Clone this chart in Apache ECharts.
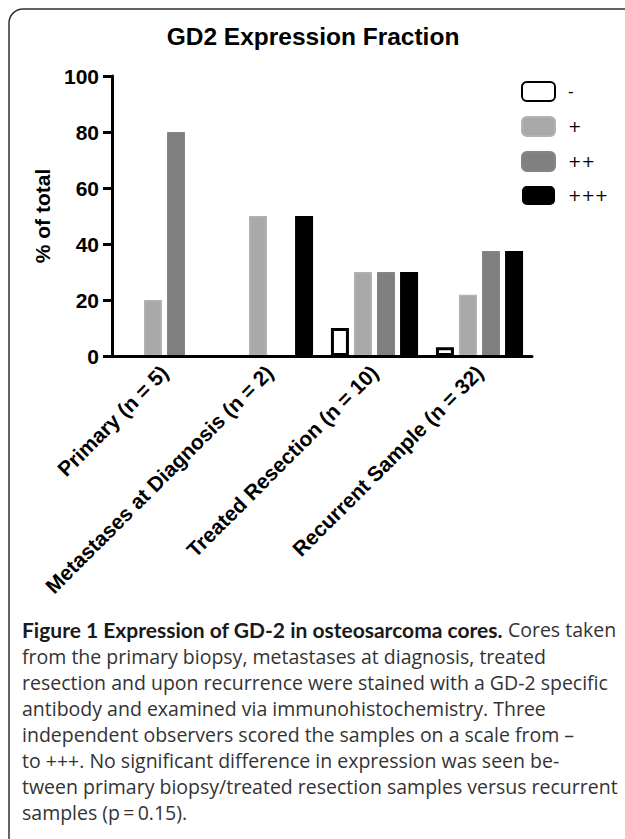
<!DOCTYPE html>
<html><head><meta charset="utf-8">
<script src="https://cdn.jsdelivr.net/npm/echarts@6/dist/echarts.min.js"></script>
<style>html,body{margin:0;padding:0;background:#fff}#c{width:625px;height:839px}</style>
</head><body><div id="c"></div>
<script>
const categories = ['Primary (n = 5)', 'Metastases at Diagnosis (n = 2)', 'Treated Resection (n = 10)', 'Recurrent Sample (n = 32)'];
const seriesNames = ['-', '+', '++', '+++'];
const valuesNeg = [0, 0, 10, 3.1];
const valuesPlus = [20, 50, 30, 21.9];
const valuesPlus2 = [80, 0, 30, 37.5];
const valuesPlus3 = [0, 50, 30, 37.5];
const yTicks = [0, 20, 40, 60, 80, 100];
const captionBold = 'Figure 1 Expression of GD-2 in osteosarcoma cores.';
const captionLines = [
  ' Cores taken',
  'from the primary biopsy, metastases at diagnosis, treated',
  'resection and upon recurrence were stained with a GD-2 specific',
  'antibody and examined via immunohistochemistry. Three',
  'independent observers scored the samples on a scale from \u2013',
  'to +++. No significant difference in expression was seen be-',
  'tween primary biopsy/treated resection samples versus recurrent',
  'samples (p\u2009=\u20090.15).'
];

const chart = echarts.init(document.getElementById('c'), null, {renderer: 'svg'});
const AX = 'Liberation Sans, Arial, sans-serif';
const styles = [
  {color: '#ffffff', borderColor: '#000000', borderWidth: 3},
  {color: '#a9a9a9', borderColor: '#b3b3b3', borderWidth: 1.5},
  {color: '#808080', borderColor: '#858585', borderWidth: 1},
  {color: '#000000', borderColor: '#000000', borderWidth: 0}
];
const dataSets = [valuesNeg, valuesPlus, valuesPlus2, valuesPlus3];

const CAP = 19.5;
const graphics = [
  {type: 'rect', shape: {x: 9, y: 9, width: 660, height: 860, r: 14}, style: {fill: 'none', stroke: '#333', lineWidth: 1.5}, z: -1}
];
const capTop = 632, capGap = 26;
graphics.push({
  type: 'text', left: 22, top: capTop - 13,
  style: {
    text: '{b|' + captionBold + '}{n|' + captionLines[0] + '}',
    rich: {
      b: {fontFamily: 'Lato', fontWeight: 'bold', fontSize: 21, fill: '#1a1a1a'},
      n: {fontFamily: 'Open Sans', fontSize: CAP, fill: '#333'}
    }
  }
});
for (let i = 1; i < captionLines.length; i++) {
  graphics.push({
    type: 'text', left: 22, top: capTop - 12 + i * capGap,
    style: {text: captionLines[i], fontFamily: 'Open Sans', fontSize: CAP, fill: '#333'}
  });
}

chart.setOption({
  animation: false,
  backgroundColor: '#fff',
  title: {
    text: 'GD2 Expression Fraction', left: 308, top: 19, textAlign: 'center',
    textStyle: {fontFamily: AX, fontWeight: 'bold', fontSize: 24.5, color: '#000'}
  },
  legend: {
    data: seriesNames, orient: 'vertical', left: 516, top: 76,
    itemWidth: 33, itemHeight: 19, itemGap: 14,
    textStyle: {fontFamily: 'DejaVu Sans', fontSize: 16, color: '#000', padding: [0, 0, 0, 8]}
  },
  grid: {left: 112, right: 93, top: 76, bottom: 483, containLabel: false},
  xAxis: {
    type: 'category', data: categories, z: 10,
    axisLine: {lineStyle: {color: '#000', width: 3}},
    axisTick: {alignWithLabel: true, length: 9, lineStyle: {width: 3, color: '#000'}},
    axisLabel: {rotate: 45, interval: 0, margin: 13, fontFamily: AX, fontWeight: 'bold', fontSize: 21, color: '#000'}
  },
  yAxis: {
    type: 'value', min: yTicks[0], max: yTicks[yTicks.length - 1], interval: 20,
    name: '% of total', nameLocation: 'middle', nameGap: 54, nameRotate: 90,
    nameTextStyle: {fontFamily: AX, fontWeight: 'bold', fontSize: 21, color: '#000'},
    axisLine: {show: true, lineStyle: {color: '#000', width: 3}},
    axisTick: {show: true, length: 9, lineStyle: {width: 3, color: '#000'}},
    axisLabel: {fontFamily: AX, fontWeight: 'bold', fontSize: 21, color: '#000', margin: 13},
    splitLine: {show: false}
  },
  series: seriesNames.map((n, i) => ({
    name: n, type: 'bar', data: dataSets[i].map(v => (v === 0 ? null : v)), barWidth: 18, barGap: '28%',
    itemStyle: styles[i]
  })),
  graphic: graphics
});
</script></body></html>
